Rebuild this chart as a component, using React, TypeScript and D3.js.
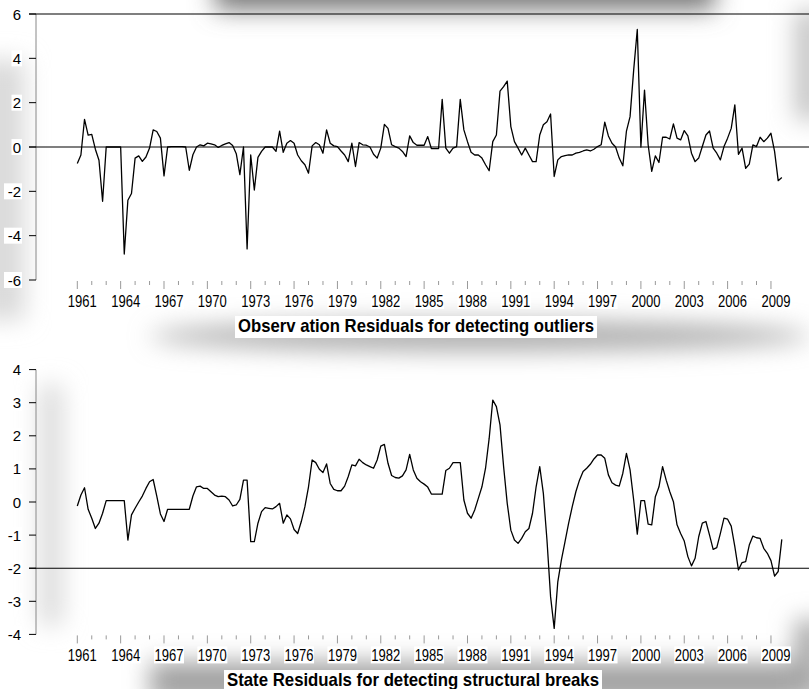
import React, { useEffect, useRef } from "react";
import * as d3 from "d3";

// quarterly residuals, 1961Q1 .. 2009Q4
const startYear = 1961;
const endYear = 2009;
const yearLabels = [1961, 1964, 1967, 1970, 1973, 1976, 1979, 1982, 1985, 1988, 1991, 1994, 1997, 2000, 2003, 2006, 2009];

const observationResiduals = [
  -0.74, -0.36, 1.25, 0.54, 0.57, -0.1, -0.6, -2.45, 0, 0,
  0, 0, 0, -4.83, -2.4, -2.1, -0.5, -0.4, -0.65, -0.45,
  -0.05, 0.77, 0.7, 0.4, -1.3, 0, 0.02, 0.02, 0.02, 0.02,
  0, -1.05, -0.35, 0, 0.1, 0.05, 0.17, 0.14, 0.1, -0.02,
  0.07, 0.14, 0.2, 0.07, -0.3, -1.25, 0, -4.6, -0.36, -1.94,
  -0.47, -0.2, 0, 0, 0, -0.2, 0.72, -0.24, 0.17, 0.29,
  0.17, -0.36, -0.62, -0.8, -1.18, 0.05, 0.2, 0.1, -0.28, 0.77,
  0.17, 0.05, 0.02, -0.18, -0.36, -0.66, 0.17, -0.88, 0.2, 0.1,
  0.08, 0, -0.33, -0.5, -0.05, 1.02, 0.84, 0.1, 0.02, -0.05,
  -0.2, -0.43, 0.5, 0.2, 0.08, 0.08, 0.08, 0.47, -0.07, -0.07,
  -0.07, 2.15, -0.05, -0.28, -0.05, 0.02, 2.15, 0.77, 0.24, -0.24,
  -0.36, -0.36, -0.5, -0.8, -1.07, 0.24, 0.54, 2.52, 2.72, 2.97,
  0.92, 0.24, -0.05, -0.36, -0.05, -0.36, -0.66, -0.66, 0.54, 1.0,
  1.14, 1.49, -1.33, -0.58, -0.43, -0.39, -0.36, -0.36, -0.28, -0.24,
  -0.18, -0.13, -0.18, -0.1, 0.02, 0.1, 1.12, 0.5, 0.17, 0,
  -0.5, -0.85, 0.72, 1.37, 3.47, 5.3, 0, 2.57, 0.1, -1.1,
  -0.4, -0.7, 0.44, 0.44, 0.36, 1.04, 0.4, 0.32, 0.74, 0.5,
  -0.28, -0.66, -0.5, 0.02, 0.54, 0.72, -0.05, -0.28, -0.58, 0.02,
  0.4, 0.84, 1.9, -0.33, -0.05, -0.96, -0.77, 0.1, 0.02, 0.44,
  0.24, 0.4, 0.62, -0.2, -1.52, -1.38,
];

const stateResiduals = [
  -0.12, 0.21, 0.43, -0.22, -0.49, -0.8, -0.64, -0.34, 0.04, 0.04,
  0.04, 0.04, 0.04, 0.04, -1.15, -0.39, -0.19, 0, 0.18, 0.41,
  0.61, 0.68, 0.18, -0.36, -0.59, -0.22, -0.22, -0.22, -0.22, -0.22,
  -0.22, -0.22, 0.18, 0.46, 0.48, 0.41, 0.41, 0.31, 0.21, 0.16,
  0.18, 0.16, 0.06, -0.12, -0.09, 0.08, 0.66, 0.66, -1.2, -1.2,
  -0.64, -0.29, -0.17, -0.19, -0.21, -0.14, -0.04, -0.64, -0.39, -0.51,
  -0.83, -0.95, -0.59, -0.14, 0.46, 1.27, 1.19, 0.99, 0.89, 1.15,
  0.56, 0.38, 0.34, 0.34, 0.48, 0.77, 1.12, 1.09, 1.29, 1.19,
  1.12, 1.07, 1.02, 1.27, 1.69, 1.74, 1.17, 0.8, 0.74, 0.72,
  0.79, 0.97, 1.44, 0.97, 0.72, 0.61, 0.54, 0.45, 0.24, 0.24,
  0.24, 0.24, 0.95, 1.02, 1.19, 1.19, 1.19, 0.06, -0.34, -0.49,
  -0.24, 0.11, 0.46, 1.02, 1.92, 3.08, 2.88, 2.33, 1.07, -0.04,
  -0.85, -1.15, -1.25, -1.1, -0.9, -0.8, -0.34, 0.46, 1.07, 0.26,
  -1.15, -2.86, -3.82, -2.41, -1.75, -1.2, -0.64, -0.14, 0.31, 0.66,
  0.92, 1.02, 1.14, 1.3, 1.42, 1.42, 1.32, 0.82, 0.58, 0.51,
  0.48, 0.87, 1.47, 0.97, 0.06, -0.97, 0.04, 0.04, -0.67, -0.69,
  0.16, 0.46, 1.07, 0.66, 0.31, 0.01, -0.69, -0.95, -1.18, -1.65,
  -1.93, -1.7, -1.05, -0.64, -0.59, -1.0, -1.43, -1.38, -0.95, -0.49,
  -0.52, -0.73, -1.35, -2.05, -1.83, -1.8, -1.3, -1.03, -1.08, -1.1,
  -1.4, -1.55, -1.77, -2.24, -2.1, -1.13,
];

const observationTicks = [6, 4, 2, 0, -2, -4, -6];
const observationRefLines = [6, 0];
const stateTicks = [4, 3, 2, 1, 0, -1, -2, -3, -4];
const stateRefLines = [-2];

const FONT = "'Liberation Sans', Arial, sans-serif";
const W = 809;

interface ResidualPanelProps {
  values: number[];
  yDomain: [number, number];
  yTicks: number[];
  refLines: number[];
  yTop: number;
  yBottom: number;
  title: string;
  titleY: number;
  titleX: number;
  titleWidth: number;
}

const ResidualPanel: React.FC<ResidualPanelProps> = ({
  values,
  yDomain,
  yTicks,
  refLines,
  yTop,
  yBottom,
  title,
  titleY,
  titleX,
  titleWidth,
}) => {
  const gRef = useRef<SVGGElement | null>(null);

  useEffect(() => {
    const g = d3.select(gRef.current);
    g.selectAll("*").remove();

    const x = d3.scaleLinear().domain([0, values.length - 1]).range([77.3, 781.8]);
    const y = d3.scaleLinear().domain(yDomain).range([yBottom, yTop]);
    const axisX = 36;

    // y axis line
    g.append("line")
      .attr("x1", axisX).attr("x2", axisX)
      .attr("y1", yTop).attr("y2", yBottom)
      .attr("stroke", "#888").attr("stroke-width", 1);

    // y ticks + labels
    yTicks.forEach((t) => {
      g.append("line")
        .attr("x1", 29).attr("x2", axisX)
        .attr("y1", y(t)).attr("y2", y(t))
        .attr("stroke", "#000").attr("stroke-width", 1);
      const lbl = String(t);
      const w = lbl.length * 7.5 + 2;
      g.append("rect")
        .attr("x", 21 - w).attr("y", y(t) - 8)
        .attr("width", w + 1).attr("height", 16)
        .attr("fill", "#fff");
      g.append("text")
        .attr("x", 21).attr("y", y(t) + 5.5)
        .attr("text-anchor", "end")
        .attr("font-family", FONT).attr("font-size", 15)
        .attr("fill", "#000")
        .text(lbl);
    });

    // reference lines
    refLines.forEach((r) => {
      g.append("line")
        .attr("x1", 29).attr("x2", W)
        .attr("y1", y(r)).attr("y2", y(r))
        .attr("stroke", "#000").attr("stroke-width", 1.1);
    });

    // year ticks along the bottom
    const years = d3.range(startYear, endYear + 1);
    years.forEach((yr) => {
      const xp = x((yr - startYear) * 4);
      const major = yearLabels.includes(yr);
      g.append("line")
        .attr("x1", xp).attr("x2", xp)
        .attr("y1", yBottom + 1).attr("y2", yBottom + (major ? 9 : 5))
        .attr("stroke", "#999").attr("stroke-width", 1);
    });

    yearLabels.forEach((yr) => {
      const xp = x((yr - startYear) * 4) + 5;
      g.append("rect")
        .attr("x", xp - 15).attr("y", yBottom + 12)
        .attr("width", 30).attr("height", 17)
        .attr("fill", "#fff");
      g.append("text")
        .attr("x", xp).attr("y", yBottom + 27)
        .attr("text-anchor", "middle")
        .attr("font-family", FONT).attr("font-size", 17)
        .attr("textLength", 29).attr("lengthAdjust", "spacingAndGlyphs")
        .attr("fill", "#000")
        .text(yr);
    });

    // residual line
    const line = d3
      .line<number>()
      .x((_, i) => x(i))
      .y((d) => y(d));

    g.append("path")
      .datum(values)
      .attr("d", line)
      .attr("fill", "none")
      .attr("stroke", "#000")
      .attr("stroke-width", 1.3)
      .attr("stroke-linejoin", "round");

    // title
    g.append("rect")
      .attr("x", titleX - titleWidth / 2 - 3).attr("y", titleY - 16)
      .attr("width", titleWidth + 6).attr("height", 22)
      .attr("fill", "#fff");
    g.append("text")
      .attr("x", titleX).attr("y", titleY)
      .attr("text-anchor", "middle")
      .attr("font-family", FONT).attr("font-size", 19).attr("font-weight", "bold")
      .attr("textLength", titleWidth).attr("lengthAdjust", "spacingAndGlyphs")
      .attr("fill", "#000")
      .text(title);
  }, [values, yDomain, yTicks, refLines, yTop, yBottom, title, titleY, titleX, titleWidth]);

  return <g ref={gRef} />;
};

export default function App() {
  return (
    <svg
      width={W}
      height={689}
      style={{ position: "absolute", left: 0, top: 0, background: "#fff" }}
    >
      <defs>
        <filter id="soft" x="-50%" y="-50%" width="200%" height="200%">
          <feGaussianBlur stdDeviation="12" />
        </filter>
      </defs>
      {/* scanned-page shadows */}
      <g filter="url(#soft)">
        <rect x={215} y={-30} width={500} height={40} fill="#7a7a7a" />
        <rect x={-20} y={60} width={45} height={260} fill="#dadada" />
        <ellipse cx={480} cy={336} rx={330} ry={15} fill="#acacac" />
        <rect x={40} y={385} width={22} height={240} fill="#d8d8d8" />
        <rect x={150} y={662} width={650} height={40} fill="#a0a0a0" />
        <rect x={795} y={10} width={30} height={110} fill="#c4c4c4" />
        <rect x={795} y={620} width={30} height={80} fill="#a8a8a8" />
      </g>
      <ResidualPanel
        values={observationResiduals}
        yDomain={[-6, 6]}
        yTicks={observationTicks}
        refLines={observationRefLines}
        yTop={14}
        yBottom={280}
        title="Observ ation Residuals for detecting outliers"
        titleX={416}
        titleY={332}
        titleWidth={356}
      />
      <ResidualPanel
        values={stateResiduals}
        yDomain={[-4, 4]}
        yTicks={stateTicks}
        refLines={stateRefLines}
        yTop={369.6}
        yBottom={634.4}
        title="State Residuals for detecting structural breaks"
        titleX={413}
        titleY={686}
        titleWidth={372}
      />
    </svg>
  );
}
